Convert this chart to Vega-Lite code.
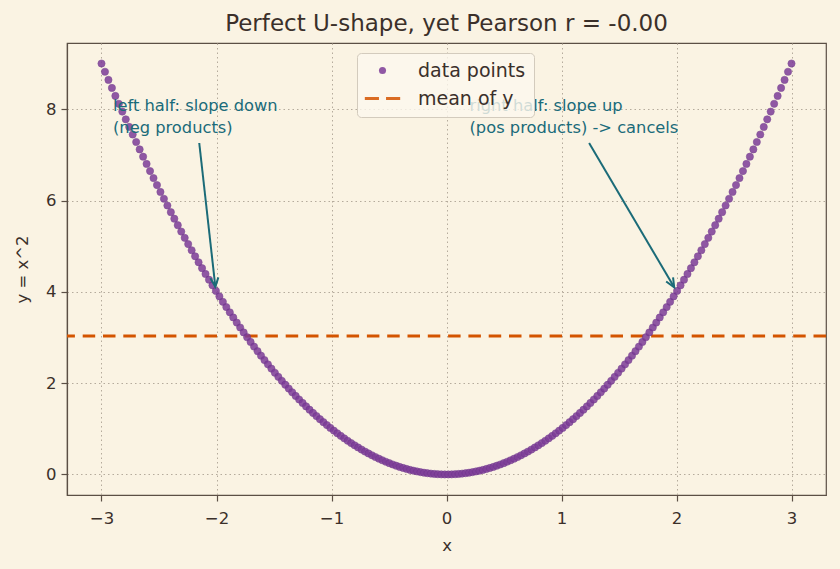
{
 "$schema": "https://vega.github.io/schema/vega-lite/v6.json",
 "width": 759, "height": 452,
 "autosize": {"type": "none"},
 "padding": {"left": 67, "top": 43, "right": 14, "bottom": 74},
 "background": "#faf3e3",
 "title": {"text": "Perfect U-shape, yet Pearson r = -0.00", "fontSize": 23, "fontWeight": "normal", "color": "#3b302a", "font": "DejaVu Sans", "offset": 7},
 "config": {
  "font": "DejaVu Sans",
  "view": {"stroke": "#5b4f45", "strokeWidth": 1.2},
  "axis": {"domainColor": "#5b4f45", "domainWidth": 1.2, "tickColor": "#5b4f45", "tickSize": 6, "tickWidth": 1.2, "labelFontSize": 16.5, "labelColor": "#3b302a", "titleFontSize": 16.5, "titleFontWeight": "normal", "titleColor": "#3b302a", "gridColor": "#b5ab9c", "gridDash": [1.5, 3], "gridWidth": 1, "labelPadding": 5}
 },
 "datasets": {
  "pts": [
   {"x":-3.0,"y":9.0},{"x":-2.9698,"y":8.8200},{"x":-2.9397,"y":8.6418},{"x":-2.9095,"y":8.4655},{"x":-2.8794,"y":8.2910},{"x":-2.8492,"y":8.1182},{"x":-2.8191,"y":7.9473},{"x":-2.7889,"y":7.7782},{"x":-2.7588,"y":7.6109},{"x":-2.7286,"y":7.4455},
   {"x":-2.6985,"y":7.2819},{"x":-2.6683,"y":7.1200},{"x":-2.6382,"y":6.9600},{"x":-2.6080,"y":6.8019},{"x":-2.5779,"y":6.6455},{"x":-2.5477,"y":6.4910},{"x":-2.5176,"y":6.3383},{"x":-2.4874,"y":6.1874},{"x":-2.4573,"y":6.0383},{"x":-2.4271,"y":5.8910},
   {"x":-2.3970,"y":5.7455},{"x":-2.3668,"y":5.6019},{"x":-2.3367,"y":5.4601},{"x":-2.3065,"y":5.3201},{"x":-2.2764,"y":5.1819},{"x":-2.2462,"y":5.0456},{"x":-2.2161,"y":4.9110},{"x":-2.1859,"y":4.7783},{"x":-2.1558,"y":4.6474},{"x":-2.1256,"y":4.5183},
   {"x":-2.0955,"y":4.3910},{"x":-2.0653,"y":4.2656},{"x":-2.0352,"y":4.1420},{"x":-2.0050,"y":4.0201},{"x":-1.9749,"y":3.9001},{"x":-1.9447,"y":3.7819},{"x":-1.9146,"y":3.6656},{"x":-1.8844,"y":3.5510},{"x":-1.8543,"y":3.4383},{"x":-1.8241,"y":3.3274},
   {"x":-1.7940,"y":3.2183},{"x":-1.7638,"y":3.1111},{"x":-1.7337,"y":3.0056},{"x":-1.7035,"y":2.9020},{"x":-1.6734,"y":2.8002},{"x":-1.6432,"y":2.7002},{"x":-1.6131,"y":2.6020},{"x":-1.5829,"y":2.5056},{"x":-1.5528,"y":2.4111},{"x":-1.5226,"y":2.3183},
   {"x":-1.4925,"y":2.2274},{"x":-1.4623,"y":2.1383},{"x":-1.4322,"y":2.0511},{"x":-1.4020,"y":1.9656},{"x":-1.3719,"y":1.8820},{"x":-1.3417,"y":1.8002},{"x":-1.3116,"y":1.7202},{"x":-1.2814,"y":1.6420},{"x":-1.2513,"y":1.5657},{"x":-1.2211,"y":1.4911},
   {"x":-1.1910,"y":1.4184},{"x":-1.1608,"y":1.3475},{"x":-1.1307,"y":1.2784},{"x":-1.1005,"y":1.2111},{"x":-1.0704,"y":1.1456},{"x":-1.0402,"y":1.0820},{"x":-1.0101,"y":1.0202},{"x":-0.9799,"y":0.9602},{"x":-0.9497,"y":0.9020},{"x":-0.9196,"y":0.8457},
   {"x":-0.8894,"y":0.7911},{"x":-0.8593,"y":0.7384},{"x":-0.8291,"y":0.6875},{"x":-0.7990,"y":0.6384},{"x":-0.7688,"y":0.5911},{"x":-0.7387,"y":0.5457},{"x":-0.7085,"y":0.5020},{"x":-0.6784,"y":0.4602},{"x":-0.6482,"y":0.4202},{"x":-0.6181,"y":0.3820},
   {"x":-0.5879,"y":0.3457},{"x":-0.5578,"y":0.3111},{"x":-0.5276,"y":0.2784},{"x":-0.4975,"y":0.2475},{"x":-0.4673,"y":0.2184},{"x":-0.4372,"y":0.1911},{"x":-0.4070,"y":0.1657},{"x":-0.3769,"y":0.1420},{"x":-0.3467,"y":0.1202},{"x":-0.3166,"y":0.1002},
   {"x":-0.2864,"y":0.0820},{"x":-0.2563,"y":0.0657},{"x":-0.2261,"y":0.0511},{"x":-0.1960,"y":0.0384},{"x":-0.1658,"y":0.0275},{"x":-0.1357,"y":0.0184},{"x":-0.1055,"y":0.0111},{"x":-0.0754,"y":0.0057},{"x":-0.0452,"y":0.0020},{"x":-0.0151,"y":0.0002},
   {"x":0.0151,"y":0.0002},{"x":0.0452,"y":0.0020},{"x":0.0754,"y":0.0057},{"x":0.1055,"y":0.0111},{"x":0.1357,"y":0.0184},{"x":0.1658,"y":0.0275},{"x":0.1960,"y":0.0384},{"x":0.2261,"y":0.0511},{"x":0.2563,"y":0.0657},{"x":0.2864,"y":0.0820},
   {"x":0.3166,"y":0.1002},{"x":0.3467,"y":0.1202},{"x":0.3769,"y":0.1420},{"x":0.4070,"y":0.1657},{"x":0.4372,"y":0.1911},{"x":0.4673,"y":0.2184},{"x":0.4975,"y":0.2475},{"x":0.5276,"y":0.2784},{"x":0.5578,"y":0.3111},{"x":0.5879,"y":0.3457},
   {"x":0.6181,"y":0.3820},{"x":0.6482,"y":0.4202},{"x":0.6784,"y":0.4602},{"x":0.7085,"y":0.5020},{"x":0.7387,"y":0.5457},{"x":0.7688,"y":0.5911},{"x":0.7990,"y":0.6384},{"x":0.8291,"y":0.6875},{"x":0.8593,"y":0.7384},{"x":0.8894,"y":0.7911},
   {"x":0.9196,"y":0.8457},{"x":0.9497,"y":0.9020},{"x":0.9799,"y":0.9602},{"x":1.0101,"y":1.0202},{"x":1.0402,"y":1.0820},{"x":1.0704,"y":1.1456},{"x":1.1005,"y":1.2111},{"x":1.1307,"y":1.2784},{"x":1.1608,"y":1.3475},{"x":1.1910,"y":1.4184},
   {"x":1.2211,"y":1.4911},{"x":1.2513,"y":1.5657},{"x":1.2814,"y":1.6420},{"x":1.3116,"y":1.7202},{"x":1.3417,"y":1.8002},{"x":1.3719,"y":1.8820},{"x":1.4020,"y":1.9656},{"x":1.4322,"y":2.0511},{"x":1.4623,"y":2.1383},{"x":1.4925,"y":2.2274},
   {"x":1.5226,"y":2.3183},{"x":1.5528,"y":2.4111},{"x":1.5829,"y":2.5056},{"x":1.6131,"y":2.6020},{"x":1.6432,"y":2.7002},{"x":1.6734,"y":2.8002},{"x":1.7035,"y":2.9020},{"x":1.7337,"y":3.0056},{"x":1.7638,"y":3.1111},{"x":1.7940,"y":3.2183},
   {"x":1.8241,"y":3.3274},{"x":1.8543,"y":3.4383},{"x":1.8844,"y":3.5510},{"x":1.9146,"y":3.6656},{"x":1.9447,"y":3.7819},{"x":1.9749,"y":3.9001},{"x":2.0050,"y":4.0201},{"x":2.0352,"y":4.1420},{"x":2.0653,"y":4.2656},{"x":2.0955,"y":4.3910},
   {"x":2.1256,"y":4.5183},{"x":2.1558,"y":4.6474},{"x":2.1859,"y":4.7783},{"x":2.2161,"y":4.9110},{"x":2.2462,"y":5.0456},{"x":2.2764,"y":5.1819},{"x":2.3065,"y":5.3201},{"x":2.3367,"y":5.4601},{"x":2.3668,"y":5.6019},{"x":2.3970,"y":5.7455},
   {"x":2.4271,"y":5.8910},{"x":2.4573,"y":6.0383},{"x":2.4874,"y":6.1874},{"x":2.5176,"y":6.3383},{"x":2.5477,"y":6.4910},{"x":2.5779,"y":6.6455},{"x":2.6080,"y":6.8019},{"x":2.6382,"y":6.9600},{"x":2.6683,"y":7.1200},{"x":2.6985,"y":7.2819},
   {"x":2.7286,"y":7.4455},{"x":2.7588,"y":7.6109},{"x":2.7889,"y":7.7782},{"x":2.8191,"y":7.9473},{"x":2.8492,"y":8.1182},{"x":2.8794,"y":8.2910},{"x":2.9095,"y":8.4655},{"x":2.9397,"y":8.6418},{"x":2.9698,"y":8.8200},{"x":3.0,"y":9.0}
  ],
  "mean": [{"m": 3.0302}],
  "notes": [
   {"x": -2.9, "y": 7.96, "t": "left half: slope down\n(neg products)"},
   {"x": 0.2, "y": 7.96, "t": "right half: slope up\n(pos products) -> cancels"}
  ],
  "arrows": [
   {"x": -2.15, "y": 7.26, "x2": -2.01, "y2": 4.11, "ang": 173.7},
   {"x": 1.24, "y": 7.26, "x2": 1.98, "y2": 4.10, "ang": 149.4}
  ]
 },
 "layer": [
  {
   "data": {"name": "mean"},
   "mark": {"type": "rule", "color": "#d35400", "strokeWidth": 3, "strokeDash": [12.5, 7.8]},
   "encoding": {"y": {"field": "m", "type": "quantitative", "scale": {"domain": [-0.45, 9.45], "nice": false, "zero": false}}}
  },
  {
   "data": {"name": "pts"},
   "mark": {"type": "point", "filled": true, "opacity": 0.85, "size": 52, "stroke": "#6c3389", "strokeWidth": 0.6},
   "encoding": {
    "x": {"field": "x", "type": "quantitative", "scale": {"domain": [-3.3, 3.3], "nice": false, "zero": false}, "axis": {"values": [-3, -2, -1, 0, 1, 2, 3], "format": "d", "title": "x", "titlePadding": 11, "labelPadding": 9}},
    "y": {"field": "y", "type": "quantitative", "scale": {"domain": [-0.45, 9.45], "nice": false, "zero": false}, "axis": {"values": [0, 2, 4, 6, 8], "format": "d", "title": "y = x^2", "titlePadding": 15}},
    "color": {"datum": "data points", "scale": {"domain": ["data points", "mean of y"], "range": ["#7d3c98", "#d35400"]},
     "legend": {"title": null, "orient": "none", "legendX": 290, "legendY": 10, "fillColor": "rgba(252,247,237,0.8)", "strokeColor": "#d3cbbd", "cornerRadius": 4, "padding": 8, "labelFontSize": 19, "labelColor": "#3b302a", "symbolSize": 50, "rowPadding": 8, "labelOffset": 26, "symbolOpacity": 0.85, "symbolOffset": 8, "symbolStrokeWidth": 0}},
    "shape": {"datum": "data points", "scale": {"domain": ["data points", "mean of y"], "range": ["circle", "M-5,-0.43H-1V0.43H-5Z M1,-0.43H5V0.43H1Z"]}, "legend": null}
   }
  },
  {
   "data": {"name": "arrows"},
   "mark": {"type": "rule", "color": "#1b6b78", "strokeWidth": 2},
   "encoding": {
    "x": {"field": "x", "type": "quantitative"},
    "y": {"field": "y", "type": "quantitative"},
    "x2": {"field": "x2"},
    "y2": {"field": "y2"}
   }
  },
  {
   "data": {"name": "arrows"},
   "mark": {"type": "point", "shape": "M-0.8,1.8L0,0L0.8,1.8", "filled": false, "color": "#1b6b78", "strokeWidth": 2, "size": 100, "opacity": 1},
   "encoding": {
    "x": {"field": "x2", "type": "quantitative"},
    "y": {"field": "y2", "type": "quantitative"},
    "angle": {"field": "ang", "type": "quantitative", "scale": null}
   }
  },
  {
   "data": {"name": "notes"},
   "mark": {"type": "text", "align": "left", "baseline": "alphabetic", "fontSize": 16.3, "color": "#1a6b7a", "lineBreak": "\n", "lineHeight": 22},
   "encoding": {
    "x": {"field": "x", "type": "quantitative"},
    "y": {"field": "y", "type": "quantitative"},
    "text": {"field": "t"}
   }
  }
 ]
}
